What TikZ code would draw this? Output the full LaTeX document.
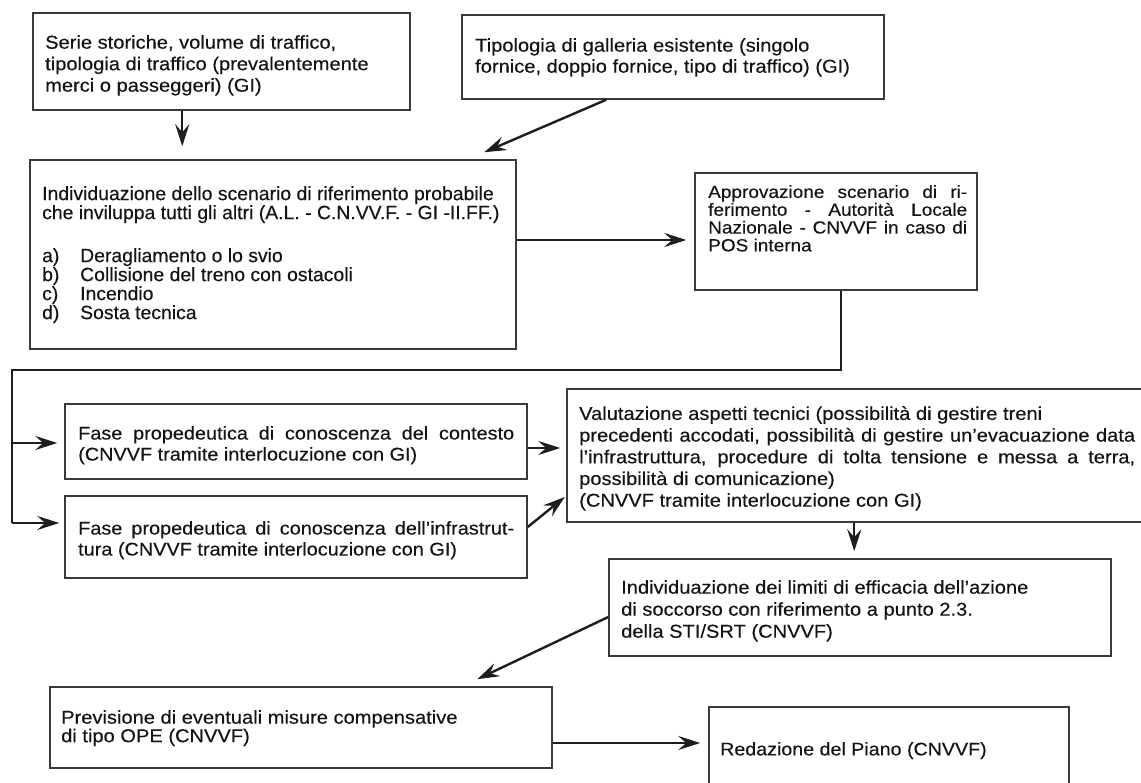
\documentclass[tikz,border=0pt]{standalone}
\usepackage{fontspec}
\setmainfont{Liberation Sans}[FakeStretch=1.08,FakeBold=0.25]
\newfontfamily\narrowfont{Liberation Sans}[FakeStretch=1.01,FakeBold=0.25]
\usetikzlibrary{arrows.meta}
\definecolor{boxc}{HTML}{3A3A3A}
\definecolor{lnc}{HTML}{1E1E1E}
\definecolor{txtc}{HTML}{141414}
\begin{document}
\begin{tikzpicture}[x=1pt,y=-1pt,
  box/.style={draw=boxc, line width=1.5pt, rectangle, inner sep=0pt},
  txt/.style={anchor=north west, inner sep=0pt, align=left, text=txtc},
  conn/.style={draw=lnc, line width=2.4pt, line join=miter},
  arr/.style={conn, -{Stealth[length=22pt,width=14pt,inset=8pt]}},
]
\useasboundingbox (0,0) rectangle (1141,783);
\fill[white] (0,0) rectangle (1141,783);
\clip (0,0) rectangle (1141,783);

% boxes
\node[box, minimum width=377pt, minimum height=97pt] (b1) at (221.5,61.5) {};
\node[box, minimum width=422pt, minimum height=84pt] (b2) at (673,57) {};
\node[box, minimum width=486pt, minimum height=189pt] (b3) at (273,254.5) {};
\node[box, minimum width=282pt, minimum height=117pt] (ap) at (836,231.5) {};
\node[box, minimum width=462pt, minimum height=75pt] (f1) at (296,441.5) {};
\node[box, minimum width=462pt, minimum height=82pt] (f2) at (296,537) {};
\node[box, minimum width=575pt, minimum height=133pt] (va) at (854.5,455.5) {};
\node[box, minimum width=502pt, minimum height=97pt] (li) at (860,607.5) {};
\node[box, minimum width=502pt, minimum height=81pt] (pr) at (301,727.5) {};
\node[box, minimum width=360pt, minimum height=93pt] (re) at (889,753.5) {};

% texts
\node[txt, font=\fontsize{18.6pt}{21.5pt}\selectfont] (t1) at (45,35)
  {Serie storiche, volume di traffico,\\tipologia di traffico (prevalentemente\\merci o passeggeri) (GI)};
\node[txt, font=\fontsize{18.6pt}{21pt}\selectfont] (t2) at (475,38)
  {Tipologia di galleria esistente (singolo\\fornice, doppio fornice, tipo di traffico) (GI)};
\node[txt, font=\narrowfont\fontsize{19.2pt}{19pt}\selectfont] (t3) at (42,186)
  {Individuazione dello scenario di riferimento probabile\\
   che inviluppa tutti gli altri (A.L. - C.N.VV.F. - GI -II.FF.)\\[24pt]
   \makebox[38pt][l]{a)}Deragliamento o lo svio\\
   \makebox[38pt][l]{b)}Collisione del treno con ostacoli\\
   \makebox[38pt][l]{c)}Incendio\\
   \makebox[38pt][l]{d)}Sosta tecnica};
\node[txt, font=\fontsize{17.6pt}{17.8pt}\selectfont] (tap) at (708,185)
  {\makebox[259pt][s]{Approvazione scenario di ri-}\\
   \makebox[259pt][s]{ferimento - Autorità Locale}\\
   \makebox[259pt][s]{Nazionale - CNVVF in caso di}\\
   POS interna};
\node[txt, font=\fontsize{18.4pt}{21pt}\selectfont] (tf1) at (78,426)
  {\makebox[436pt][s]{Fase propedeutica di conoscenza del contesto}\\
   (CNVVF tramite interlocuzione con GI)};
\node[txt, font=\fontsize{18.4pt}{21pt}\selectfont] (tf2) at (78,521)
  {\makebox[436pt][s]{Fase propedeutica di conoscenza dell’infrastrut-}\\
   tura (CNVVF tramite interlocuzione con GI)};
\node[txt, font=\fontsize{18.6pt}{21.7pt}\selectfont] (tva) at (579,406)
  {Valutazione aspetti tecnici (possibilità di gestire treni\\
   \makebox[556pt][s]{precedenti accodati, possibilità di gestire un’evacuazione data}\\
   \makebox[556pt][s]{l’infrastruttura, procedure di tolta tensione e messa a terra,}\\
   possibilità di comunicazione)\\
   (CNVVF tramite interlocuzione con GI)};
\node[txt, font=\fontsize{18.6pt}{22pt}\selectfont] (tli) at (621,580)
  {Individuazione dei limiti di efficacia dell’azione\\
   di soccorso con riferimento a punto 2.3.\\
   della STI/SRT (CNVVF)};
\node[txt, font=\fontsize{18.6pt}{18.5pt}\selectfont] (tpr) at (61,710)
  {Previsione di eventuali misure compensative\\
   di tipo OPE (CNVVF)};
\node[txt, font=\fontsize{18.2pt}{18pt}\selectfont] (tre) at (720,742)
  {Redazione del Piano (CNVVF)};

% connectors
\coordinate (a1s) at ([xshift=150pt]b1.south west);
\draw[arr, shorten >=13pt] (a1s) -- (a1s |- b3.north);

\coordinate (a2s) at ([xshift=145pt]b2.south west);
\coordinate (a2e) at ([xshift=455pt,yshift=7pt]b3.north west);
\draw[arr] (a2s) -- (a2e);

\coordinate (a3s) at ([yshift=14.5pt]b3.east);
\draw[arr, shorten >=8pt] (a3s) -- (a3s -| ap.west);

\coordinate (c0) at ([xshift=147pt]ap.south west);
\coordinate (cl) at ([xshift=-52pt,yshift=14pt]f2.west);
\draw[conn] (c0) -- ++(0,79) -| (cl);
\coordinate (f1a) at ([xshift=-52pt,yshift=-1.5pt]f1.west);
\draw[arr, shorten >=7pt] (f1a) -- (f1a -| f1.west);
\draw[arr, shorten >=5pt] (cl) -- (cl -| f2.west);

\coordinate (f1e) at ([yshift=-6.5pt]f1.east);
\draw[arr, shorten >=6pt] (f1e) -- (f1e -| va.west);
\coordinate (f2e) at ([yshift=10pt]f2.east);
\draw[arr] (f2e) -- ++(37,-30);

\coordinate (vas) at ([xshift=288pt]va.south west);
\draw[arr, shorten >=7pt] (vas) -- (vas |- li.north);

\coordinate (lis) at ([yshift=-9.5pt]li.west);
\coordinate (prt) at ([xshift=428pt,yshift=7pt]pr.north west);
\draw[arr] (lis) -- (prt);

\coordinate (prs) at ([yshift=-15.5pt]pr.east);
\draw[arr, shorten >=8pt] (prs) -- (prs -| re.west);
\end{tikzpicture}
\end{document}
